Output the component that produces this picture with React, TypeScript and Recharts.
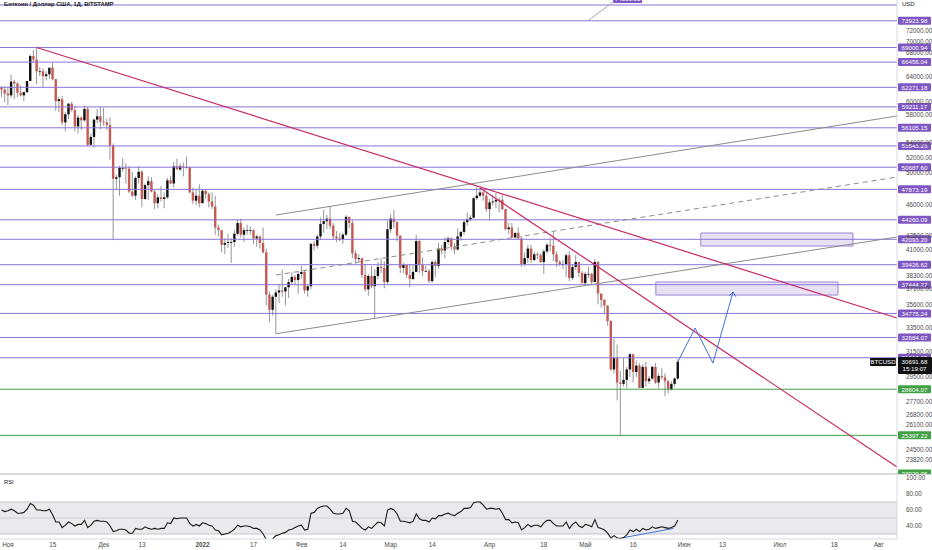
import React from "react"
import {
  ComposedChart,
  Bar,
  Line,
  XAxis,
  YAxis,
  ReferenceLine,
  ReferenceArea,
  ReferenceDot,
} from "recharts"

const FONT = '"Liberation Sans", Arial, sans-serif'

// day 0 = 1 Nov 2021, first candle is 30 Oct 2021
const startDay = -2
const firstOpen = 62200

const closes = [
  61900, 61300,
  61000, 63200, 62900, 61400, 61000, 61500, 63300, 67500, 66900, 64900,
  64900, 64100, 64400, 65500, 63600, 60100, 60400, 56900, 58100, 59700,
  58700, 56300, 57600, 57200, 58900, 53700, 54800, 57300, 57800, 57000,
  56900, 56500, 53600, 49200, 49400, 50600, 50600, 50500, 47600, 47100,
  49300, 50100, 46700, 48400, 48900, 47600, 46200, 46900, 46700, 46900,
  49000, 48600, 50800, 50400, 50800, 50700, 50700, 47500, 46500, 47100, 46200,
  47700, 47300, 46400, 45800, 43400, 43100, 41500, 41700, 41800, 41800,
  42700, 43900, 42600, 43100, 43100, 43100, 42200, 42400, 41700, 40700,
  36500, 35100, 36300, 36700, 36900, 36800, 37200, 37700, 38200, 37900, 38500,
  38700, 36900, 37300, 41600, 41400, 42400, 43800, 44100, 44400, 43600,
  42400, 42200, 42100, 42600, 44600, 43900, 40600, 40000, 40100, 38400,
  37000, 38300, 37300, 38300, 39200, 39100, 37700, 43200,
  44400, 44000, 42500, 39100, 39400, 38400, 38000, 38700, 41900, 39400,
  38800, 38800, 37800, 39700, 39300, 41100, 40900, 41800, 42200, 41300,
  41000, 42400, 42900, 44000, 44300, 44500, 46800, 47100, 47500, 47100, 45500,
  46300, 46400, 46600, 46600, 45500, 43200, 43400, 42300, 42800, 42200,
  39500, 40100, 41100, 39900, 40500, 40400, 39700, 40800, 41500, 41400,
  40500, 39700, 39500, 39500, 40400, 38100, 39200, 39700, 38600, 37600,
  38500, 38500, 37700, 39700, 36600, 36000, 35500, 34100, 30100, 31000,
  29100, 29000, 29300, 30100, 31300, 29900, 30400, 28700, 30300, 29200,
  29400, 30300, 29100, 29600, 29500, 29200, 28600, 29000, 29400, 30691.68,
]

const highs = [
  62500, 62400,
  62400, 64300, 63500, 63100, 62600, 61600, 63300, 67800, 68500, 69000,
  65600, 65400, 64900, 65500, 66300, 63600, 60800, 60900, 58400, 59800,
  60000, 59300, 58000, 57800, 59400, 59200, 55300, 57400, 58900, 59200,
  59100, 57400, 57600, 53900, 49700, 50900, 51900, 51200, 50800, 50100,
  49500, 50800, 50300, 48600, 49500, 49400, 47900, 47300, 48300, 47500,
  49300, 49600, 51400, 51800, 51200, 51300, 52100, 50700, 48100, 47900, 48500,
  47900, 47900, 47500, 47500, 47100, 43700, 43100, 42200, 42700, 42200,
  43100, 44300, 44400, 43400, 43700, 43500, 43200, 42600, 42500, 43400,
  41100, 36800, 36500, 37000, 37500, 38900, 37200, 38000, 38700, 38400, 38700,
  39300, 38800, 37400, 41700, 41900, 42600, 44500, 45400, 44800, 45800,
  43900, 43000, 42800, 42800, 44800, 44600, 44200, 40900, 40500, 40100,
  39500, 38500, 39300, 39000, 39700, 40100, 39800, 44200,
  44900, 45400, 44100, 42500, 39600, 39400, 39500, 39400, 42600, 42000,
  40200, 39300, 39000, 39900, 39900, 41700, 41500, 42300, 42400, 42300,
  41700, 43300, 43000, 44200, 45100, 44800, 46900, 48200, 48100, 47700, 47600,
  46700, 47200, 47400, 46900, 47200, 45500, 43900, 43900, 42800, 43400,
  42400, 40700, 41500, 41500, 40800, 40700, 40600, 41000, 41700, 42200,
  42900, 40800, 39900, 39900, 40600, 40800, 39500, 40400, 39400, 38800,
  38700, 39200, 38600, 40000, 39800, 36600, 36100, 35500, 34200, 32600,
  32100, 30000, 31000, 30300, 31400, 31300, 30800, 30600, 30500, 30700,
  29600, 30400, 30600, 29800, 30200, 29800, 29300, 29200, 29500, 30900,
]

const lows = [
  60700, 59900,
  59500, 60600, 60400, 60700, 60800, 60100, 61400, 63300, 66300, 62800,
  64100, 62300, 63400, 63600, 63400, 58600, 58400, 56500, 55600, 57400,
  58500, 55600, 55300, 55800, 57000, 53500, 53600, 53300, 56800, 55900,
  56400, 55800, 51700, 42000, 47800, 47100, 50100, 48600, 47400, 46900,
  46600, 48600, 45700, 46600, 46600, 47500, 45500, 45600, 46400, 45600,
  46700, 48500, 48100, 50400, 50200, 49500, 50500, 47400, 46100, 46000, 45700,
  46200, 46700, 45700, 45500, 42600, 42400, 40700, 40500, 41200, 39600,
  41300, 42500, 42300, 41800, 42600, 42600, 41600, 41300, 41100, 40600,
  35500, 34000, 34600, 33000, 35700, 36300, 35500, 36200, 37400, 37400, 36600,
  38000, 36600, 36300, 37000, 40900, 41100, 42000, 42800, 43200, 43200,
  42000, 41800, 41900, 41600, 42400, 43300, 40100, 39500, 39700, 38100,
  36800, 36400, 37100, 34300, 38000, 38600, 37100, 37500,
  42800, 43300, 41900, 38600, 38600, 38100, 37200, 37900, 38700, 38600,
  38300, 38700, 37600, 37600, 38200, 39000, 40500, 40100, 41500, 40900,
  40500, 40900, 41900, 42600, 43600, 44100, 44400, 46600, 46900, 46500, 45200,
  44200, 45900, 45600, 45100, 45400, 43100, 42700, 42200, 42100, 42000,
  39200, 39300, 39600, 39600, 39800, 40000, 39600, 38500, 40600, 40800,
  39800, 39200, 39300, 39000, 38200, 37800, 37900, 38900, 38200, 37600,
  37400, 38100, 37500, 37700, 35600, 35300, 34800, 33700, 30000, 29800,
  27800, 25400, 28800, 28700, 29500, 29100, 29500, 28700, 28700, 28800,
  29000, 29300, 29000, 28700, 29300, 28100, 28300, 28500, 28800, 29300,
]

const rsiValues = [
  60, 58, 59, 61, 59, 56, 56, 57, 61, 68, 66, 60,
  60, 59, 59, 61, 54, 45, 45, 38, 41, 45,
  43, 40, 42, 42, 47, 38, 41, 46, 47, 46,
  46, 45, 40, 33, 34, 36, 36, 35, 31, 31,
  37, 36, 36, 39, 37, 36, 37, 36, 37, 37,
  44, 43, 50, 49, 50, 50, 50, 43, 40, 42,
  40, 44, 43, 41, 40, 35, 34, 29, 30, 31,
  33, 36, 41, 39, 40, 40, 39, 37, 37, 35,
  30, 23, 21, 24, 28, 29, 31, 32, 35, 36,
  38, 40, 41, 35, 36, 56, 57, 62, 64, 65,
  65, 61, 56, 55, 55, 56, 62, 59, 46, 45,
  41, 37, 35, 39, 37, 41, 45, 44, 40, 60,
  62, 60, 55, 46, 46, 45, 44, 46, 55, 49,
  47, 47, 45, 50, 49, 53, 53, 55, 56, 54,
  53, 56, 58, 62, 62, 63, 69, 70, 70, 66,
  61, 62, 62, 61, 62, 56, 48, 48, 44, 45,
  44, 35, 38, 42, 39, 41, 41, 39, 44, 47,
  47, 43, 40, 40, 40, 45, 37, 42, 45, 40,
  38, 42, 41, 39, 48, 38, 37, 35, 31, 25,
  28, 25, 24.6, 25.5, 29, 35, 33, 36, 33, 37,
  35, 36, 39, 37, 38, 39, 38, 37, 38, 40, 47.5,
]

const purpleLevels = [
  73923.98, 69000.94, 66456.04, 62271.18, 59211.17, 56105.15, 53543.23, 50687.6,
  47873.19, 44260.09, 42093.2, 39426.62, 37444.27, 34775.24, 32684.07, 31018.65,
]
const topLevel = 76990
const greenLevels = [28604.07, 25397.22]
const bottomGreenLevel = 23020

const priceTicks = [
  72000, 70000, 68000, 64000, 60000, 58000, 54000, 52000, 50000, 46000, 42500, 41000,
  38300, 37100, 35600, 33500, 31500, 29500, 27700, 26800, 26100, 24500, 23820,
]
const rsiTicks = [100, 80, 60, 40]

const dateTicks = [0, 14, 30, 42, 61, 77, 92, 105, 120, 133, 151, 168, 181, 196, 212, 224, 242, 259, 273]
const dateLabels = ["Ноя", "15", "Дек", "13", "2022", "17", "Фев", "14", "Мар", "14", "Апр", "18", "Май", "16", "Июн", "13", "Июл", "18", "Авг"]

// drawn lines: [startDay, startPrice, endDay, endPrice]
const fanOuter = [9, 69000, 278.7, 34370]
const fanInner = [148, 48040, 278.7, 23410]
const channelLow = [84, 33000, 278.7, 42340]
const channelHigh = [84, 44810, 278.7, 57840]
const channelMid = [84, 38390, 278.7, 49420]
const topMarker = [181.8, 73924, 189.7, 77590]

const projDays = [210, 215.4, 221, 227.3]
const projPrices = [30691.68, 33490, 30600, 36750]

const zones = [
  { x1: 217.2, x2: 264.9, y1: 41370, y2: 42780 },
  { x1: 203.1, x2: 260.2, y1: 36460, y2: 37710 },
]

const rsiDivergence = [192.9, 25.4, 208.6, 37]

const lastPrice = 30691.68
const lastTime = "15:19:07"

const candles = closes.map((c, i) => ({
  day: startDay + i,
  open: i === 0 ? firstOpen : closes[i - 1],
  high: highs[i],
  low: lows[i],
  close: c,
  range: [lows[i], highs[i]],
}))

const rsiData = rsiValues.map((v, i) => ({ day: startDay + i, rsi: v }))

const X_DOMAIN: [number, number] = [-2.5, 278.7]
const UP = "#111111"
const DOWN = "#c45a52"
const WICK = "#7a7a7a"
const PURPLE = "#7e57c2"
const LEVEL = "#8a74d8"
const GREEN = "#43a047"
const PINK = "#c72a66"
const GREY = "#8c8c8c"
const BLUE = "#3f72d8"

function Candle(props: any) {
  const { x, y, width, height, payload } = props
  if (!payload) return null
  const { open, close, high, low } = payload
  const top = Math.min(y, y + height)
  const bottom = Math.max(y, y + height)
  const span = Math.log(high) - Math.log(low) || 1
  const toY = (p: number) => top + ((bottom - top) * (Math.log(high) - Math.log(p))) / span
  const cx = x + width / 2
  const b1 = toY(Math.max(open, close))
  const b2 = toY(Math.min(open, close))
  return (
    <g>
      <line x1={cx} x2={cx} y1={top} y2={bottom} stroke={WICK} strokeWidth={0.8} />
      <rect x={cx - 1.2} y={b1} width={2.4} height={Math.max(b2 - b1, 0.8)} fill={close >= open ? UP : DOWN} />
    </g>
  )
}

function PriceTag(props: any) {
  const { viewBox, text, color } = props
  if (!viewBox) return null
  const x = viewBox.x + viewBox.width + 1
  const y = viewBox.y
  return (
    <g>
      <rect x={x} y={y - 4} width={33} height={8} fill={color} rx={1} />
      <text x={x + 16.5} y={y + 2.3} fontSize={6.2} fill="#fff" textAnchor="middle" fontFamily={FONT}>
        {text}
      </text>
    </g>
  )
}

function LastPriceTag(props: any) {
  const { viewBox } = props
  if (!viewBox) return null
  const x = viewBox.x + viewBox.width
  const y = viewBox.y
  return (
    <g fontFamily={FONT} fontSize={6.2}>
      <rect x={x - 27} y={y - 4} width={26} height={8} fill="#111" rx={1} />
      <text x={x - 14} y={y + 2.3} fill="#fff" textAnchor="middle">BTCUSD</text>
      <rect x={x + 1} y={y - 5} width={34} height={17} fill="#111" rx={1} />
      <text x={x + 17.5} y={y + 1.8} fill="#fff" textAnchor="middle">{lastPrice.toFixed(2)}</text>
      <text x={x + 17.5} y={y + 9.5} fill="#fff" textAnchor="middle">{lastTime}</text>
    </g>
  )
}

function Arrowhead(props: any) {
  const { cx, cy } = props
  if (cx == null) return null
  return <path d={`M ${cx - 3.8} ${cy + 3.6} L ${cx} ${cy} L ${cx + 2.8} ${cy + 4.8}`} stroke={BLUE} strokeWidth={1} fill="none" />
}

function TopBox(props: any) {
  const { cx, cy } = props
  if (cx == null) return null
  return (
    <g>
      <rect x={cx} y={cy - 7} width={29} height={8} fill={PURPLE} rx={1} />
      <text x={cx + 14.5} y={cy - 0.7} fontSize={6.2} fill="#fff" textAnchor="middle" fontFamily={FONT}>74600.01</text>
    </g>
  )
}

function DateTick(props: any) {
  const { x, y, index } = props
  const label = dateLabels[index] ?? ""
  return (
    <text x={x} y={y + 7.5} fontSize={6.3} fill="#4a4a4a" textAnchor="middle" fontFamily={FONT} fontWeight={label === "2022" ? 700 : 400}>
      {label}
    </text>
  )
}

const seg = (s: number[]) => [
  { x: s[0], y: s[1] },
  { x: s[2], y: s[3] },
] as any

export default function App() {
  const axisTick = { fontSize: 6.3, fill: "#4a4a4a", fontFamily: FONT }
  return (
    <div style={{ position: "absolute", left: 0, top: 0, width: 932, height: 550, background: "#fff", overflow: "hidden", fontFamily: FONT }}>
      <ComposedChart width={932} height={474} data={candles} margin={{ top: 0, right: 0, bottom: 0, left: 0 }}>
        <XAxis dataKey="day" type="number" domain={X_DOMAIN} allowDataOverflow hide />
        <YAxis
          orientation="right"
          width={35}
          scale="log"
          domain={[22990, 77990]}
          allowDataOverflow
          ticks={priceTicks}
          interval={0}
          tickLine={false}
          tickMargin={3}
          axisLine={{ stroke: "#d6d9e0" }}
          tick={axisTick}
          tickFormatter={(v) => Number(v).toFixed(2)}
        />
        {zones.map((z, i) => (
          <ReferenceArea key={`z${i}`} x1={z.x1} x2={z.x2} y1={z.y1} y2={z.y2} fill={PURPLE} fillOpacity={0.18} stroke="#9c84d6" strokeWidth={1} />
        ))}
        <ReferenceLine y={topLevel} stroke={LEVEL} strokeWidth={1} />
        {purpleLevels.map((p) => (
          <ReferenceLine key={`p${p}`} y={p} stroke={LEVEL} strokeWidth={1} label={<PriceTag text={p.toFixed(2)} color={PURPLE} />} />
        ))}
        {greenLevels.map((p) => (
          <ReferenceLine key={`g${p}`} y={p} stroke={GREEN} strokeWidth={1} label={<PriceTag text={p.toFixed(2)} color={GREEN} />} />
        ))}
        <ReferenceLine y={bottomGreenLevel} stroke="#d9dbe0" strokeWidth={1} label={<PriceTag text="23020.06" color={GREEN} />} />
        <ReferenceLine segment={seg(channelLow)} stroke={GREY} strokeWidth={1} />
        <ReferenceLine segment={seg(channelHigh)} stroke={GREY} strokeWidth={1} />
        <ReferenceLine segment={seg(channelMid)} stroke={GREY} strokeWidth={1} strokeDasharray="5 4" />
        <ReferenceLine segment={seg(topMarker)} stroke="#a9a3c4" strokeWidth={1} />
        <ReferenceDot x={topMarker[2]} y={topMarker[3]} r={0} shape={<TopBox />} />
        <ReferenceLine segment={seg(fanOuter)} stroke={PINK} strokeWidth={1.2} />
        <ReferenceLine segment={seg(fanInner)} stroke={PINK} strokeWidth={1.2} />
        {projDays.slice(1).map((d, i) => (
          <ReferenceLine
            key={`pr${i}`}
            segment={[
              { x: projDays[i], y: projPrices[i] },
              { x: d, y: projPrices[i + 1] },
            ] as any}
            stroke={BLUE}
            strokeWidth={1}
          />
        ))}
        <ReferenceDot x={projDays[3]} y={projPrices[3]} r={0} shape={<Arrowhead />} />
        <ReferenceLine y={lastPrice} stroke="none" label={<LastPriceTag />} />
        <Bar dataKey="range" barSize={3} shape={<Candle />} isAnimationActive={false} />
      </ComposedChart>
      <div style={{ position: "absolute", left: 4, top: 1, fontSize: 5.8, fontWeight: 700, color: "#131722" }}>
        Биткоин / Доллар США, 1Д, BITSTAMP
      </div>
      <div style={{ position: "absolute", left: 902, top: 1, fontSize: 6, color: "#131722" }}>USD</div>
      <div style={{ position: "absolute", left: 0, top: 474, width: 932, height: 76, borderTop: "1px solid #d6d9e0", boxSizing: "border-box" }}>
        <ComposedChart width={932} height={75} data={rsiData} margin={{ top: 0, right: 0, bottom: 0, left: 0 }}>
          <XAxis
            dataKey="day"
            type="number"
            domain={X_DOMAIN}
            allowDataOverflow
            ticks={dateTicks}
            interval={0}
            tickLine={false}
            tickSize={0}
            tickMargin={0}
            height={11}
            axisLine={{ stroke: "#d6d9e0" }}
            tick={<DateTick />}
          />
          <YAxis
            orientation="right"
            width={35}
            domain={[23.75, 103.75]}
            allowDataOverflow
            ticks={rsiTicks}
            interval={0}
            tickLine={false}
            tickMargin={3}
            axisLine={{ stroke: "#d6d9e0" }}
            tick={axisTick}
            tickFormatter={(v) => Number(v).toFixed(2)}
          />
          <ReferenceArea y1={30} y2={70} fill="#e9e9ee" fillOpacity={1} stroke="none" />
          <ReferenceLine y={70} stroke="#c4c4cb" strokeWidth={1.2} />
          <ReferenceLine y={50} stroke="#cfcfd5" strokeWidth={1} />
          <ReferenceLine y={30} stroke="#c4c4cb" strokeWidth={1.2} />
          <ReferenceLine segment={seg(rsiDivergence)} stroke={BLUE} strokeWidth={1} />
          <Line dataKey="rsi" type="linear" stroke="#1a1a1a" strokeWidth={1.1} dot={false} isAnimationActive={false} />
        </ComposedChart>
        <div style={{ position: "absolute", left: 4, top: 4, fontSize: 5.8, color: "#131722" }}>RSI</div>
      </div>
    </div>
  )
}
